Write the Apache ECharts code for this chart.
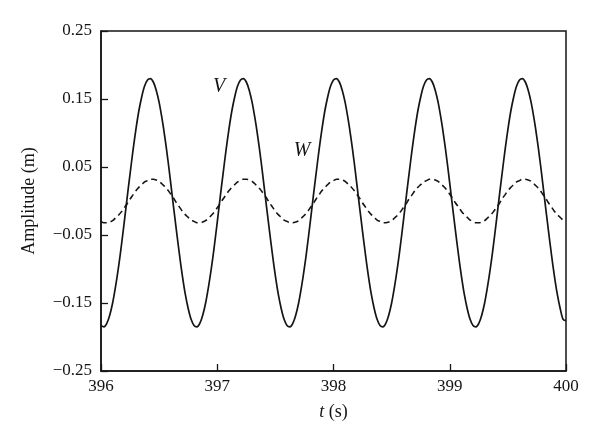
<!DOCTYPE html>
<html>
<head>
<meta charset="utf-8">
<script src="https://cdn.jsdelivr.net/npm/echarts@6/dist/echarts.min.js"></script>
<style>html,body{margin:0;padding:0;background:#fff;}#c{width:600px;height:447px;}</style>
</head>
<body>
<div id="c"></div>
<script>
// time samples (s), every 0.025 s from 396 to 400
var tStart = 396, tStep = 0.025;
// V amplitude (m)
var vValues = [
 -0.183,-0.185,-0.180,-0.168,-0.150,-0.126,-0.098,-0.066,-0.031,0.005,0.040,0.074,0.105,0.132,0.153,0.169,
 0.178,0.180,0.175,0.163,0.145,0.121,0.093,0.061,0.026,-0.010,-0.045,-0.079,-0.110,-0.137,-0.158,-0.174,
 -0.183,-0.185,-0.180,-0.168,-0.150,-0.126,-0.098,-0.066,-0.031,0.005,0.040,0.074,0.105,0.132,0.153,0.169,
 0.178,0.180,0.175,0.163,0.145,0.121,0.093,0.061,0.026,-0.010,-0.045,-0.079,-0.110,-0.137,-0.158,-0.174,
 -0.183,-0.185,-0.180,-0.168,-0.150,-0.126,-0.098,-0.066,-0.031,0.005,0.040,0.074,0.105,0.132,0.153,0.169,
 0.178,0.180,0.175,0.163,0.145,0.121,0.093,0.061,0.026,-0.010,-0.045,-0.079,-0.110,-0.137,-0.158,-0.174,
 -0.183,-0.185,-0.180,-0.168,-0.150,-0.126,-0.098,-0.066,-0.031,0.005,0.040,0.074,0.105,0.132,0.153,0.169,
 0.178,0.180,0.175,0.163,0.145,0.121,0.093,0.061,0.026,-0.010,-0.045,-0.079,-0.110,-0.137,-0.158,-0.174,
 -0.183,-0.185,-0.180,-0.168,-0.150,-0.126,-0.098,-0.066,-0.031,0.005,0.040,0.074,0.105,0.132,0.153,0.169,
 0.178,0.180,0.175,0.163,0.145,0.121,0.093,0.061,0.026,-0.010,-0.045,-0.079,-0.110,-0.137,-0.158,-0.174,
 -0.176
];
// W amplitude (m)
var wValues = [
 -0.030,-0.032,-0.032,-0.031,-0.029,-0.025,-0.021,-0.016,-0.010,-0.004,0.003,0.009,0.015,0.020,0.024,0.028,
 0.030,0.032,0.032,0.031,0.029,0.025,0.021,0.016,0.010,0.004,-0.003,-0.009,-0.015,-0.020,-0.024,-0.028,
 -0.030,-0.032,-0.032,-0.031,-0.029,-0.025,-0.021,-0.016,-0.010,-0.004,0.003,0.009,0.015,0.020,0.024,0.028,
 0.030,0.032,0.032,0.031,0.029,0.025,0.021,0.016,0.010,0.004,-0.003,-0.009,-0.015,-0.020,-0.024,-0.028,
 -0.030,-0.032,-0.032,-0.031,-0.029,-0.025,-0.021,-0.016,-0.010,-0.004,0.003,0.009,0.015,0.020,0.024,0.028,
 0.030,0.032,0.032,0.031,0.029,0.025,0.021,0.016,0.010,0.004,-0.003,-0.009,-0.015,-0.020,-0.024,-0.028,
 -0.030,-0.032,-0.032,-0.031,-0.029,-0.025,-0.021,-0.016,-0.010,-0.004,0.003,0.009,0.015,0.020,0.024,0.028,
 0.030,0.032,0.032,0.031,0.029,0.025,0.021,0.016,0.010,0.004,-0.003,-0.009,-0.015,-0.020,-0.024,-0.028,
 -0.030,-0.032,-0.032,-0.031,-0.029,-0.025,-0.021,-0.016,-0.010,-0.004,0.003,0.009,0.015,0.020,0.024,0.028,
 0.030,0.032,0.032,0.031,0.029,0.025,0.021,0.016,0.010,0.004,-0.003,-0.009,-0.015,-0.020,-0.024,-0.028,
 -0.029
];
var xTicks = [396, 397, 398, 399, 400];
var yTicks = [-0.25, -0.15, -0.05, 0.05, 0.15, 0.25];
var labelNames = ['V', 'W'];
var labelT = [397.015, 397.729];
var labelValues = [0.1676, 0.0728];

function pairs(vals) {
  return vals.map(function (v, i) { return [+(tStart + i * tStep).toFixed(3), v]; });
}
var serif = '"Liberation Serif","DejaVu Serif",serif';
var ink = '#151515';

var chart = echarts.init(document.getElementById('c'), null, {renderer: 'canvas'});
chart.setOption({
  animation: false,
  backgroundColor: '#fff',
  grid: {left: 101, right: 34, top: 31, bottom: 76, show: true, borderColor: ink, borderWidth: 1.5, backgroundColor: 'transparent'},
  xAxis: {
    type: 'value', min: xTicks[0], max: xTicks[xTicks.length - 1], interval: 1,
    axisLine: {show: true, onZero: false, lineStyle: {color: ink, width: 1.5}},
    axisTick: {show: true, inside: true, length: 7, lineStyle: {color: ink, width: 1.3}},
    axisLabel: {color: ink, fontFamily: serif, fontSize: 17, margin: 7},
    splitLine: {show: false},
    name: '{i|t} (s)', nameLocation: 'middle', nameGap: 32,
    nameTextStyle: {color: ink, fontFamily: serif, fontSize: 18,
      rich: {i: {fontStyle: 'italic', fontFamily: serif, fontSize: 18, color: ink}}}
  },
  yAxis: {
    type: 'value', min: yTicks[0], max: yTicks[yTicks.length - 1], interval: 0.1,
    axisLine: {show: true, onZero: false, lineStyle: {color: ink, width: 1.5}},
    axisTick: {show: true, inside: true, length: 7, lineStyle: {color: ink, width: 1.3}},
    axisLabel: {color: ink, fontFamily: serif, fontSize: 17, margin: 9,
      formatter: function (v) { var s = Math.abs(v).toFixed(2); return v < 0 ? '\u2212' + s : s; }},
    splitLine: {show: false},
    name: 'Amplitude (m)', nameLocation: 'middle', nameGap: 63,
    nameTextStyle: {color: ink, fontFamily: serif, fontSize: 18}
  },
  series: [
    {
      name: 'V', type: 'line', data: pairs(vValues), smooth: 0.3, symbol: 'none',
      lineStyle: {color: ink, width: 1.7}, z: 3
    },
    {
      name: 'W', type: 'line', data: pairs(wValues), smooth: 0.3, symbol: 'none',
      lineStyle: {color: ink, width: 1.6, type: [6, 4]}, z: 2
    },
    {
      name: 'labels', type: 'scatter', symbolSize: 1, itemStyle: {color: ink, opacity: 0}, z: 4,
      data: labelNames.map(function (n, i) { return {name: n, value: [labelT[i], labelValues[i]]}; }),
      label: {show: true, position: 'top', distance: -10, formatter: '{b}', fontFamily: serif, fontStyle: 'italic',
        fontSize: 20, color: ink, opacity: 1, textBorderWidth: 0}
    }
  ]
});
</script>
</body>
</html>
